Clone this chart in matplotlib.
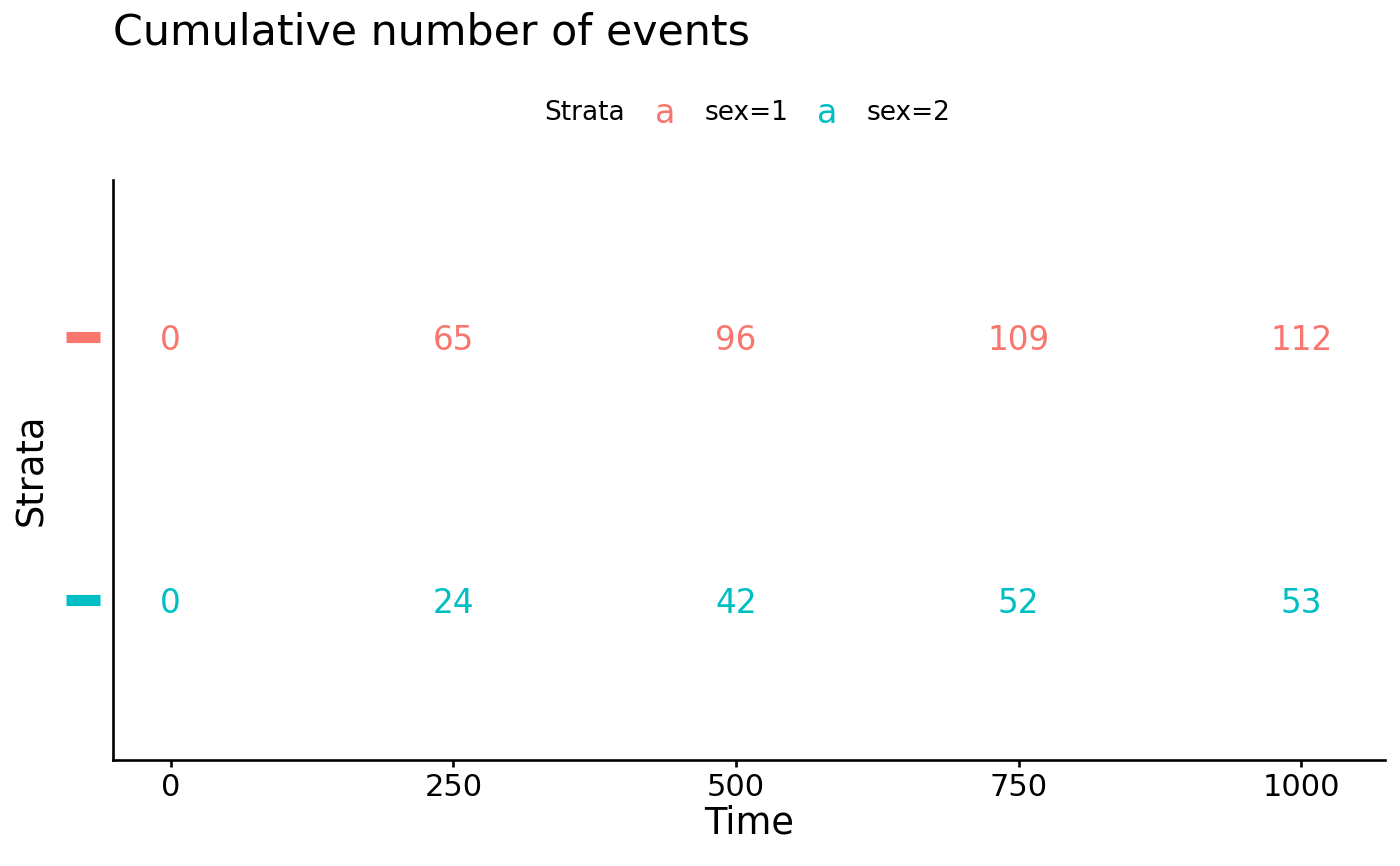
import matplotlib
matplotlib.use("Agg")
import matplotlib.pyplot as plt
import matplotlib.transforms as mtransforms

# Cumulative number of events table (survminer style)
strata = ["sex=1", "sex=2"]
strata_colors = ["#F8766D", "#00BFC4"]
strata_y = [2, 1]
times = [0, 250, 500, 750, 1000]
events_sex1 = [0, 65, 96, 109, 112]
events_sex2 = [0, 24, 42, 52, 53]
x_ticks = [0, 250, 500, 750, 1000]

plt.rcParams['font.family'] = ['DejaVu Sans']

fig = plt.figure(figsize=(14, 8.66), dpi=100)
ax = fig.add_axes([0.0807, 0.1224, 0.9086, 0.6698])

for y, vals, col in zip(strata_y, [events_sex1, events_sex2], strata_colors):
    for t, v in zip(times, vals):
        ax.text(t, y, str(v), color=col, fontsize=23.5, ha='center',
                va='center_baseline')

ax.set_xlim(-51, 1074)
ax.set_ylim(0.39, 2.6)
ax.set_xticks(x_ticks)
ax.set_xticklabels([str(t) for t in x_ticks])
ax.set_yticks([])
ax.tick_params(axis='x', length=5, width=1.9, labelsize=22, pad=4)

# coloured strata marks in place of y tick labels
trans = mtransforms.blended_transform_factory(ax.transAxes, ax.transData)
for y, col in zip(strata_y, strata_colors):
    ax.plot([-0.0236], [y], marker='_', markersize=24.5, markeredgewidth=8,
            color=col, transform=trans, clip_on=False)

for side in ['top', 'right']:
    ax.spines[side].set_visible(False)
for side in ['left', 'bottom']:
    ax.spines[side].set_linewidth(1.9)

ax.set_xlabel("Time", fontsize=26.5, labelpad=2)
ax.set_ylabel("Strata", fontsize=26.5, labelpad=45)

fig.text(0.0807, 0.962, "Cumulative number of events", fontsize=30.8, ha='left', va='center')

# legend row
fig.text(0.389, 0.870, "Strata", fontsize=19, ha='left', va='center')
fig.text(0.475, 0.869, "a", fontsize=24, color=strata_colors[0], ha='center', va='center')
fig.text(0.503, 0.870, strata[0], fontsize=19, ha='left', va='center')
fig.text(0.591, 0.869, "a", fontsize=24, color=strata_colors[1], ha='center', va='center')
fig.text(0.619, 0.870, strata[1], fontsize=19, ha='left', va='center')

fig.savefig("out.png", dpi=100)
